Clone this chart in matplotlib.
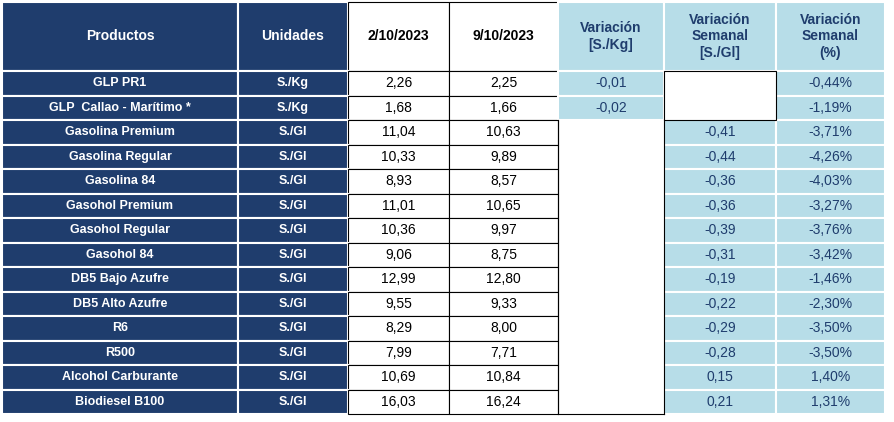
import matplotlib
matplotlib.use("Agg")
import matplotlib.pyplot as plt
from matplotlib.patches import Rectangle

productos = ["GLP PR1", "GLP  Callao - Marítimo *", "Gasolina Premium", "Gasolina Regular",
             "Gasolina 84", "Gasohol Premium", "Gasohol Regular", "Gasohol 84",
             "DB5 Bajo Azufre", "DB5 Alto Azufre", "R6", "R500", "Alcohol Carburante", "Biodiesel B100"]
unidades = ["S./Kg", "S./Kg"] + ["S./Gl"] * 12
fecha1 = ["2,26", "1,68", "11,04", "10,33", "8,93", "11,01", "10,36", "9,06", "12,99", "9,55", "8,29", "7,99", "10,69", "16,03"]
fecha2 = ["2,25", "1,66", "10,63", "9,89", "8,57", "10,65", "9,97", "8,75", "12,80", "9,33", "8,00", "7,71", "10,84", "16,24"]
var_kg = ["-0,01", "-0,02"] + [""] * 12
var_gl = ["", ""] + ["-0,41", "-0,44", "-0,36", "-0,36", "-0,39", "-0,31", "-0,19", "-0,22", "-0,29", "-0,28", "0,15", "0,21"]
var_pct = ["-0,44%", "-1,19%", "-3,71%", "-4,26%", "-4,03%", "-3,27%", "-3,76%", "-3,42%", "-1,46%", "-2,30%", "-3,50%", "-3,50%", "1,40%", "1,31%"]
headers = ["Productos", "Unidades", "2/10/2023", "9/10/2023", "Variación\n[S./Kg]", "Variación\nSemanal\n[S./Gl]", "Variación\nSemanal\n(%)"]

W, H = 894, 422
fig = plt.figure(figsize=(W/100, H/100), dpi=100)
ax = fig.add_axes([0, 0, 1, 1])
ax.set_xlim(0, W); ax.set_ylim(H, 0); ax.axis("off")

DARK = "#1F3D6D"; LIGHT = "#B7DDE8"; TXT2 = "#1F3D6D"
cols = [2, 238, 348, 449, 558, 664, 776, 885]
y0, hh = 2, 69
rh = (414 - 71) / 14.0
font = "Liberation Sans"

def cell(x0, x1, ya, yb, fc, ec="white", lw=1.5):
    ax.add_patch(Rectangle((x0, ya), x1 - x0, yb - ya, facecolor=fc, edgecolor=ec, lw=lw))

# headers
for i, h in enumerate(headers):
    x0, x1 = cols[i], cols[i+1]
    if i < 2:
        cell(x0, x1, y0, y0+hh, DARK); c = "white"
    elif i < 4:
        cell(x0, x1, y0, y0+hh, "white", "black", 0.8); c = "black"
    else:
        cell(x0, x1, y0, y0+hh, LIGHT); c = TXT2
    ax.text((x0+x1)/2, y0+hh/2, h, ha="center", va="center", fontsize=10, fontweight="bold",
            color=c, family=font, linespacing=1.25)

for r in range(14):
    ya = 71 + r*rh; yb = ya + rh; ym = (ya+yb)/2
    cell(cols[0], cols[1], ya, yb, DARK)
    ax.text((cols[0]+cols[1])/2, ym, productos[r], ha="center", va="center", fontsize=9, fontweight="bold", color="white", family=font)
    cell(cols[1], cols[2], ya, yb, DARK)
    ax.text((cols[1]+cols[2])/2, ym, unidades[r], ha="center", va="center", fontsize=9, fontweight="bold", color="white", family=font)
    for j, v in ((2, fecha1[r]), (3, fecha2[r])):
        cell(cols[j], cols[j+1], ya, yb, "white", "black", 0.8)
        ax.text((cols[j]+cols[j+1])/2, ym, v, ha="center", va="center", fontsize=10, color="black", family=font)
    for j, v in ((4, var_kg[r]), (5, var_gl[r]), (6, var_pct[r])):
        if v:
            cell(cols[j], cols[j+1], ya, yb, LIGHT)
            ax.text((cols[j]+cols[j+1])/2, ym, v, ha="center", va="center", fontsize=10, color=TXT2, family=font)

# empty bordered box in Semanal [S./Gl] column for first two rows
ax.add_patch(Rectangle((cols[5], 71), cols[6]-cols[5], 2*rh, facecolor="white", edgecolor="black", lw=0.8))
# frame lines around lower empty areas
ax.plot([cols[4], cols[4]], [71+2*rh, 414], color="black", lw=0.8)
ax.plot([cols[5], cols[5]], [71+2*rh, 414], color="black", lw=0.8)
ax.plot([cols[4], cols[5]], [414, 414], color="black", lw=0.8)

fig.savefig("out.png", dpi=100)
